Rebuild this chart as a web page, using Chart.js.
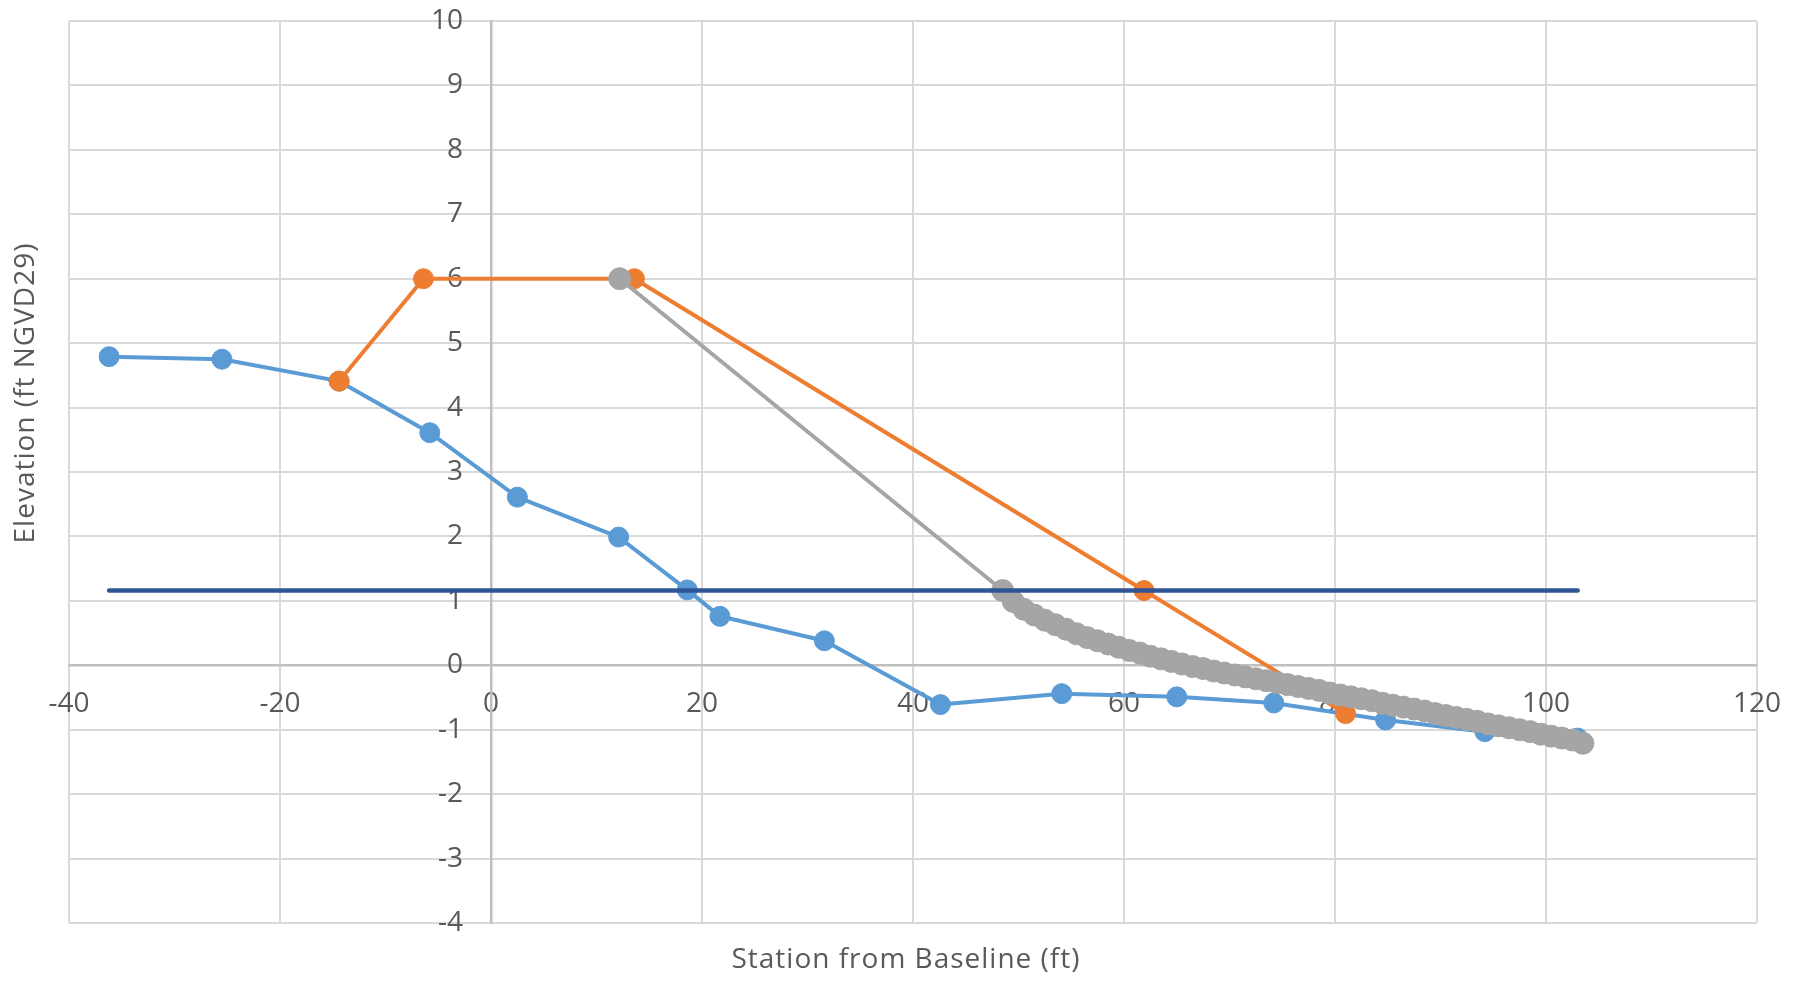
<!DOCTYPE html>
<html>
<head>
<meta charset="utf-8">
<script src="https://cdn.jsdelivr.net/npm/chart.js@4.4.1/dist/chart.umd.min.js"></script>
<style>
html,body{margin:0;padding:0;background:#ffffff;overflow:hidden}
#wrap{width:1803px;height:982px;position:relative}
</style>
</head>
<body>
<div id="wrap"><canvas id="c"></canvas></div>
<script>
// ---- tick labels ----
const xTicks = [-40, -20, 0, 20, 40, 60, 80, 100, 120];
const yTicks = [-4, -3, -2, -1, 0, 1, 2, 3, 4, 5, 6, 7, 8, 9, 10];

// ---- series: existing profile (blue) ----
const existingStation = [-36.2, -25.5, -14.4, -5.8, 2.5, 12.1, 18.6, 21.7, 31.6, 42.6, 54.1, 65.0, 74.2, 84.8, 94.2, 103.0];
const existingElev    = [4.79, 4.75, 4.41, 3.61, 2.61, 1.99, 1.17, 0.76, 0.38, -0.61, -0.44, -0.49, -0.585, -0.85, -1.03, -1.13];

// ---- series: design template (orange) ----
const designStation = [-14.4, -6.4, 13.6, 61.9, 81.0];
const designElev    = [4.41, 6.0, 6.0, 1.16, -0.75];

// ---- series: equilibrated profile (gray) ----
const equilStation = [12.2, 48.5, 49.5, 50.5, 51.5, 52.5, 53.5, 54.5, 55.5, 56.5, 57.5, 58.5, 59.5, 60.5, 61.5, 62.5, 63.5, 64.5, 65.5, 66.5, 67.5, 68.5, 69.5, 70.5, 71.5, 72.5, 73.5, 74.5, 75.5, 76.5, 77.5, 78.5, 79.5, 80.5, 81.5, 82.5, 83.5, 84.5, 85.5, 86.5, 87.5, 88.5, 89.5, 90.5, 91.5, 92.5, 93.5, 94.5, 95.5, 96.5, 97.5, 98.5, 99.5, 100.5, 101.5, 102.5, 103.5];
const equilElev    = [6.0, 1.16, 0.99, 0.87, 0.78, 0.70, 0.63, 0.56, 0.49, 0.43, 0.38, 0.33, 0.28, 0.23, 0.19, 0.14, 0.10, 0.06, 0.02, -0.02, -0.05, -0.09, -0.12, -0.15, -0.18, -0.21, -0.24, -0.27, -0.30, -0.33, -0.36, -0.39, -0.43, -0.46, -0.49, -0.52, -0.55, -0.59, -0.62, -0.65, -0.68, -0.71, -0.75, -0.78, -0.81, -0.84, -0.87, -0.91, -0.94, -0.97, -1.00, -1.03, -1.07, -1.10, -1.13, -1.16, -1.21];

// ---- series: water level (dark blue) ----
const waterStation = [-36.2, 103.0];
const waterElev    = [1.16, 1.16];

const xAxisTitle = 'Station from Baseline (ft)';
const yAxisTitle = 'Elevation (ft NGVD29)';

function pts(xs, ys) { return xs.map((x, i) => ({ x: x, y: ys[i] })); }

const TEXT = '#595959';
const GRID = '#d9d9d9';
const AXIS = '#bfbfbf';

Chart.defaults.font.family = "'Open Sans', 'DejaVu Sans', sans-serif";
Chart.defaults.font.size = 28;
Chart.defaults.color = TEXT;

function setTicks(values) {
  return function (scale) { scale.ticks = values.map(v => ({ value: v })); };
}

const lineDs = (label, xs, ys, color, width, radius) => ({
  label: label,
  data: pts(xs, ys),
  borderColor: color,
  backgroundColor: color,
  borderWidth: width,
  pointRadius: radius,
  pointHoverRadius: radius,
  pointBackgroundColor: color,
  pointBorderColor: color,
  pointBorderWidth: 1,
  borderCapStyle: 'round',
  borderJoinStyle: 'round',
  tension: 0,
  showLine: true,
  fill: false
});

const titleAdjust = {
  id: 'titleAdjust',
  afterLayout(chart) {
    const yt = chart.scales.yt;
    yt.top -= 79; yt.bottom -= 79;
    const xt = chart.scales.xt;
    xt.left -= 7; xt.right -= 7;
    [yt, xt].forEach(s => {
      if (s._wrapped) return;
      const orig = s.drawTitle;
      s.drawTitle = function () {
        const ctx = this.ctx;
        ctx.save();
        try { ctx.letterSpacing = '1px'; } catch (e) {}
        orig.call(this);
        ctx.restore();
      };
      s._wrapped = true;
    });
  }
};

new Chart(document.getElementById('c'), {
  type: 'scatter',
  data: {
    datasets: [
      lineDs('Water level', waterStation, waterElev, '#2f5597', 4.5, 0),
      lineDs('Equilibrated profile', equilStation, equilElev, '#a5a5a5', 4, 11),
      lineDs('Design template', designStation, designElev, '#ed7d31', 4, 10),
      lineDs('Existing profile', existingStation, existingElev, '#5b9bd5', 4, 10)
    ]
  },
  options: {
    responsive: true,
    maintainAspectRatio: false,
    animation: false,
    events: [],
    layout: { padding: { top: 21, right: 46, left: 0, bottom: 0 } },
    plugins: { legend: { display: false }, tooltip: { enabled: false }, title: { display: false } },
    scales: {
      x: {
        type: 'linear', position: 'bottom', min: -40, max: 120,
        afterBuildTicks: setTicks(xTicks),
        grid: { color: GRID, lineWidth: 2, drawTicks: false },
        border: { display: false },
        ticks: { display: false }
      },
      y: {
        type: 'linear', position: 'left', min: -4, max: 10,
        afterBuildTicks: setTicks(yTicks),
        grid: { color: GRID, lineWidth: 2, drawTicks: false },
        border: { display: false },
        ticks: { display: false }
      },
      x0: {
        type: 'linear', position: { y: 0 }, min: -40, max: 120,
        afterBuildTicks: setTicks(xTicks),
        grid: { display: false, drawTicks: false },
        border: { display: true, color: AXIS, width: 2.5 },
        ticks: { display: true, padding: 22, color: TEXT, maxRotation: 0, autoSkip: false }
      },
      y0: {
        type: 'linear', position: { x: -2.65 }, min: -4, max: 10,
        afterBuildTicks: setTicks(yTicks),
        grid: { display: false, drawTicks: false },
        border: { display: false },
        ticks: { display: true, padding: 0, color: TEXT, autoSkip: false }
      },
      y1: {
        type: 'linear', position: { x: 0 }, min: -4, max: 10,
        afterBuildTicks: setTicks(yTicks),
        grid: { display: false, drawTicks: false },
        border: { display: true, color: AXIS, width: 2.5 },
        ticks: { display: false }
      },
      xt: {
        type: 'linear', position: 'bottom', min: -40, max: 120,
        grid: { display: false, drawTicks: false },
        border: { display: false },
        ticks: { display: false },
        title: { display: true, text: xAxisTitle, color: TEXT, font: { size: 28 }, padding: { top: 0, bottom: 5 } },
        afterFit(s) { s.height = 59; }
      },
      yt: {
        type: 'linear', position: 'left', min: -4, max: 10,
        grid: { display: false, drawTicks: false },
        border: { display: false },
        ticks: { display: false },
        title: { display: true, text: yAxisTitle, color: TEXT, font: { size: 28 }, padding: { top: 9, bottom: 0 } },
        afterFit(s) { s.width = 69; }
      }
    }
  },
  plugins: [titleAdjust]
});
</script>
</body>
</html>
